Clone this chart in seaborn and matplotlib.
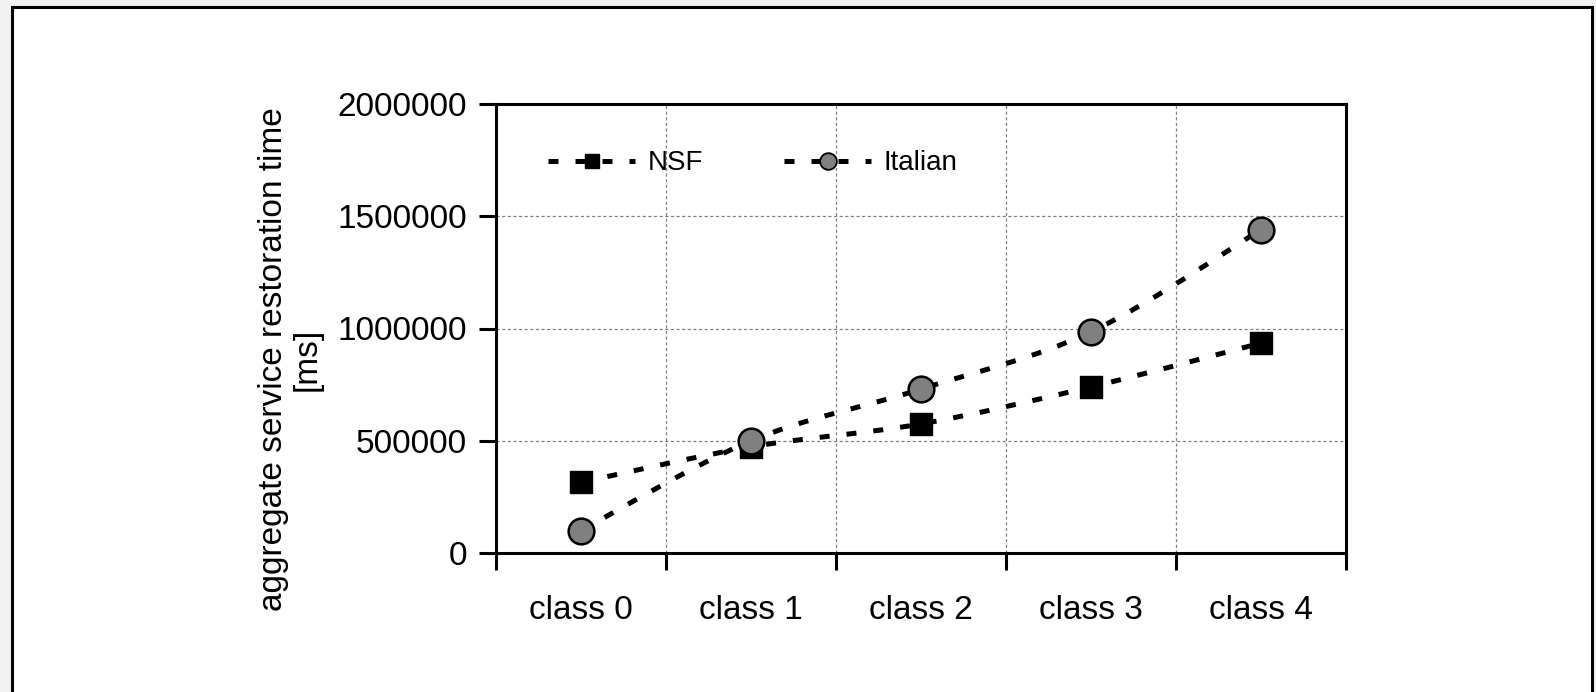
import numpy as np
import pandas as pd
import matplotlib
matplotlib.use("Agg")
import matplotlib.pyplot as plt
import seaborn as sns
from matplotlib.path import Path
from matplotlib.patches import PathPatch, Rectangle
from matplotlib.lines import Line2D

# ===== данные =====
classes = ["class 0", "class 1", "class 2", "class 3", "class 4"]
nsf = [315000, 473000, 575000, 740000, 935000]
italian = [100000, 500000, 730000, 985000, 1440000]
y_ticks = [0, 500000, 1000000, 1500000, 2000000]

sns.set_theme(style="white")
plt.rcParams['font.family'] = ['Liberation Sans', 'DejaVu Sans']
plt.rcParams['text.color'] = 'black'
plt.rcParams['xtick.color'] = 'black'
plt.rcParams['ytick.color'] = 'black'

FS = 24
W, H = 1596, 692
DASH = (0, (2.0, 3.4))

fig = plt.figure(figsize=(W / 100, H / 100), dpi=100)
fig.patch.set_facecolor("#f2f2f2")
# белая рамка вокруг графика
fig.patches.append(Rectangle((12 / W, -0.05), (1592 - 12) / W, 1.05 - 7 / H,
                             transform=fig.transFigure, facecolor="white",
                             edgecolor="black", linewidth=2.2, zorder=-1))

ax = fig.add_axes([496 / W, 1 - 553 / H, (1346 - 496) / W, (553 - 104) / H])
ax.set_zorder(2)
ax.set_facecolor("white")

x = np.arange(len(classes))
df = pd.DataFrame({"x": np.concatenate([x, x]),
                   "y": nsf + italian,
                   "net": ["NSF"] * len(x) + ["Italian"] * len(x)})


def smooth_path(xs, ys):
    # сглаженная линия как в Excel (Безье по точкам)
    pts = np.column_stack([xs, ys]).astype(float)
    verts = [pts[0]]
    codes = [Path.MOVETO]
    n = len(pts)
    for i in range(n - 1):
        p0 = pts[i - 1] if i > 0 else pts[i]
        p1 = pts[i]
        p2 = pts[i + 1]
        p3 = pts[i + 2] if i + 2 < n else pts[i + 1]
        c1 = p1 + (p2 - p0) / 6
        c2 = p2 - (p3 - p1) / 6
        verts += [c1, c2, p2]
        codes += [Path.CURVE4] * 3
    return Path(verts, codes)


line_kw = dict(fill=False, edgecolor="black", linewidth=3.6,
               linestyle=DASH, capstyle="butt", zorder=2)
ax.add_patch(PathPatch(smooth_path(x, nsf), **line_kw))
ax.add_patch(PathPatch(smooth_path(x, italian), **line_kw))

sns.scatterplot(data=df[df.net == "NSF"], x="x", y="y", marker="s", s=15.5 ** 2,
                color="black", edgecolor="black", linewidth=1, ax=ax, zorder=3,
                legend=False)
sns.scatterplot(data=df[df.net == "Italian"], x="x", y="y", marker="o", s=18.5 ** 2,
                color="#808080", edgecolor="black", linewidth=1.8, ax=ax, zorder=4,
                legend=False)

ax.set_xlim(-0.5, len(classes) - 0.5)
ax.set_ylim(0, 2000000)
ax.set_yticks(y_ticks)
ax.set_yticklabels([str(v) for v in y_ticks], fontsize=FS)
ax.set_xticks(np.arange(len(classes) + 1) - 0.5)
ax.set_xticklabels([])
ax.set_xticks(x, minor=True)
ax.set_xticklabels(classes, minor=True, fontsize=FS)
ax.tick_params(axis="x", which="minor", length=0, pad=30)
ax.tick_params(axis="x", which="major", direction="out", length=12, width=2.2,
               color="black", bottom=True)
ax.tick_params(axis="y", direction="out", length=12, width=2.2, color="black",
               pad=9, left=True)
ax.set_xlabel("")
ax.set_ylabel("")

ax.grid(True, which="major", color="#808080", linestyle=(0, (2.5, 2)), linewidth=0.9)
for s in ax.spines.values():
    s.set_color("black")
    s.set_linewidth(2.2)
    s.set_visible(True)

fig.text(290 / W, 1 - 359 / H, "aggregate service restoration time\n[ms]",
         rotation=90, ha="center", va="center", fontsize=FS, multialignment="center",
         linespacing=1.1)

handles = [
    Line2D([], [], color="black", linewidth=3.6, linestyle=DASH,
           marker="s", markersize=10.5, markerfacecolor="black", markeredgecolor="black"),
    Line2D([], [], color="black", linewidth=3.6, linestyle=DASH,
           marker="o", markersize=12, markerfacecolor="#808080", markeredgecolor="black",
           markeredgewidth=1.3),
]
ax.legend(handles, ["NSF", "Italian"], loc="center left",
          bbox_to_anchor=(0.061, 0.868), ncol=2, frameon=False, fontsize=20,
          handlelength=3.15, handletextpad=0.45, columnspacing=2.9,
          borderpad=0, borderaxespad=0)

fig.savefig("out.png", dpi=100, facecolor=fig.get_facecolor())
